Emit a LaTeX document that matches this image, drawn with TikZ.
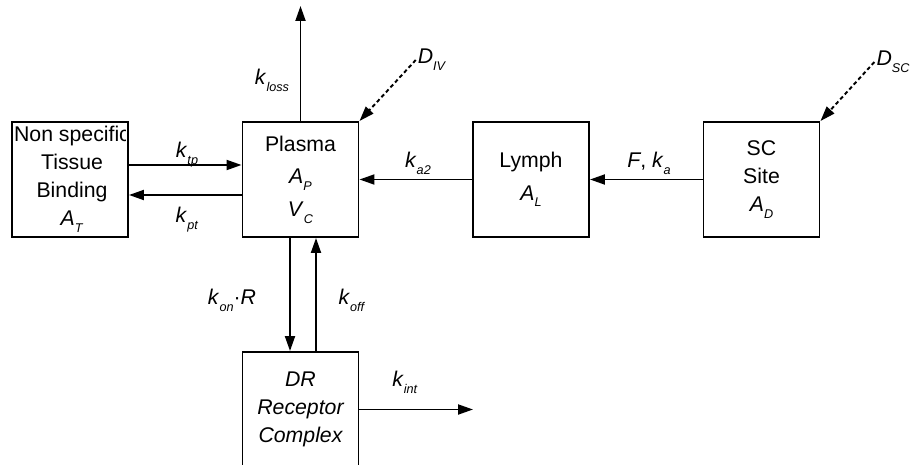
\documentclass[tikz,border=0pt]{standalone}
\usepackage{fontspec}
\setmainfont{Liberation Sans}
\usetikzlibrary{arrows.meta}
\newcommand{\boxfont}{\fontsize{12.1}{16}\selectfont}
\newcommand{\rate}[2]{\textit{#1}\raisebox{-0.32em}{\fontsize{7.2}{8}\selectfont\textit{#2}}}
\tikzset{
  comp/.style={rectangle, draw=black, line width=1.1pt, fill=white, align=center,
               font=\boxfont, minimum width=2.32cm, minimum height=2.3cm, inner sep=0pt},
  flow/.style={-{Triangle[length=3mm, width=2mm]}, line width=1.1pt, draw=black},
  dose/.style={-{Triangle[length=3mm, width=2mm]}, line width=1.1pt,
               dash pattern=on 2.2pt off 1.6pt, draw=black},
  rlabel/.style={font=\boxfont, inner sep=1pt, align=center},
}
\begin{document}
\begin{tikzpicture}
  \useasboundingbox (0,0) rectangle (18.24,-9.3);
  \node[comp] (tissue) at (1.40,-3.59) {};
  \begin{scope}
    \clip ([xshift=0.02cm]tissue.south west) rectangle ([xshift=-0.07cm]tissue.north east);
    \node[rlabel] (tissuetxt) at ([xshift=0.04cm]tissue.center) {Non specific\\Tissue\\Binding\\\rate{A}{T}};
  \end{scope}
  \node[comp] (plasma) at (6.01,-3.59) {Plasma\\[2.5pt]\rate{A}{P}\\[2.5pt]\rate{V}{C}};
  \node[comp] (lymph) at (10.62,-3.59) {Lymph\\[2.5pt]\rate{A}{L}};
  \node[comp] (sc) at (15.23,-3.59) {SC\\Site\\\rate{A}{D}};
  \node[comp, font=\boxfont\itshape] (dr) at (6.01,-8.19) {DR\\Receptor\\Complex};

  \coordinate (lossend) at (6.01,-0.12);
  \coordinate (intend) at (9.46,-8.19);

  \node[rlabel] (kloss) at (5.44,-1.60) {\rate{k}{loss}};
  \node[rlabel] (div) at (8.64,-1.20) {\rate{D}{IV}};
  \node[rlabel] (ktp) at (3.74,-3.10) {\rate{k}{tp}};
  \node[rlabel] (kpt) at (3.74,-4.40) {\rate{k}{pt}};
  \node[rlabel] (ka2) at (8.36,-3.26) {\rate{k}{a2}};
  \node[rlabel] (fka) at (12.98,-3.26) {\textit{F}, \rate{k}{a}};
  \node[rlabel] (dsc) at (17.86,-1.24) {\rate{D}{SC}};
  \node[rlabel] (konr) at (4.64,-6.00) {\rate{k}{on}·\textit{R}};
  \node[rlabel] (koff) at (7.04,-6.00) {\rate{k}{off}};
  \node[rlabel] (kint) at (8.10,-7.64) {\rate{k}{int}};

  \draw[flow] (plasma.north) -- (lossend);
  \draw[dose] (div.west) -- (plasma.north east);
  \draw[dose] (dsc.west) -- (sc.north east);
  \draw[flow] ([yshift=2.9mm]tissue.east) -- ([yshift=2.9mm]plasma.west);
  \draw[flow] ([yshift=-3.1mm]plasma.west) -- ([yshift=-3.1mm]tissue.east);
  \draw[flow] (lymph.west) -- (plasma.east);
  \draw[flow] (sc.west) -- (lymph.east);
  \draw[flow] ([xshift=-2.1mm]plasma.south) -- ([xshift=-2.1mm]dr.north);
  \draw[flow] ([xshift=3.1mm]dr.north) -- ([xshift=3.1mm]plasma.south);
  \draw[flow] (dr.east) -- (intend);
\end{tikzpicture}
\end{document}
